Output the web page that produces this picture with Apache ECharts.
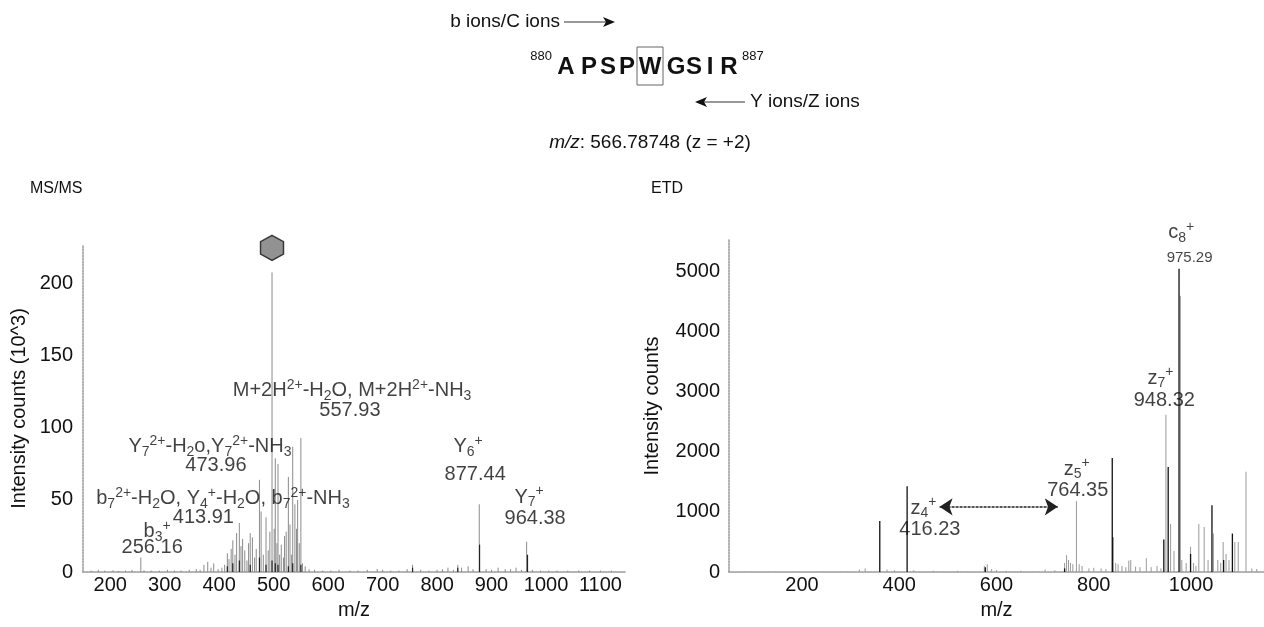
<!DOCTYPE html>
<html>
<head>
<meta charset="utf-8">
<script src="https://cdn.jsdelivr.net/npm/echarts@6/dist/echarts.min.js"></script>
<style>
  html, body { margin: 0; padding: 0; background: #fff; }
  #chart { width: 1264px; height: 627px; }
</style>
</head>
<body>
<div id="chart"></div>
<script>
// ---------------- DATA ----------------
// MS/MS spectrum (m/z, intensity in 10^3)
const msmsGrayPeaks = [
  [165,1],[178,1.5],[190,1],[205,1.2],[215,0.8],[228,1],[240,1.5],[256.16,10],[262,1.2],[275,1],[290,1],[305,1.5],[318,1],[330,1],[345,1.5],[358,2],[365,1.5],
  [372,5],[379,7],[385,3],[390,6],[398,2],[405,3],[410,5],[415,13],[418,9],[422,16],[425,22],[429,12],[432,27],[437,34],[440,18],[443,23],[447,15],[451,8],[454,20],[457,27],[461,24],[465,10],[468,16],
  [473.96,64],[477,42],[481,12],[486,38],[490,15],[493,28],[497,208],[501,30],[503,79],[506,20],[508,75],[511,12],[514,19],[518,10],[520,25],[523,28],[527,66],[530,33],[533,12],[535,87],[539,47],[542,30],[544,50],[547,20],[550,93],[553,6],[557.93,4],
  [565,2],[575,1.5],[590,1],[605,1],[620,1.5],[640,1],[655,1],[672,1.5],[690,2],[700,1.5],[715,1],[730,1],[745,2],[755,5],[770,1.5],[785,1],[800,1.5],[810,2],[820,3],[830,1.5],[838,5],[845,3],[857,4],[866,2],
  [877.44,47],[890,2],[900,1.5],[912,3],[925,2],[935,2],[945,3],[955,1.5],[964.38,21],[975,1.5],[990,1],[1005,1],[1020,1],[1040,1],[1060,1],[1080,1],[1100,1],[1120,1]
];
const msmsDarkPeaks = [
  [415,4],[425,6],[437,8],[457,5],[473.96,10],[486,5],[497,8],[503,6],[508,5],[527,4],[535,6],[550,5],[755,3],[838,3],[878,19],[966,12]
];
// ETD spectrum (m/z, intensity counts)
const etdGrayPeaks = [
  [318,40],[330,60],[375,40],[390,30],[430,30],[470,20],[520,20],[575,100],[581,130],[590,50],[600,30],[620,20],[650,20],[700,40],[720,30],
  [740,150],[744,280],[748,200],[752,150],[757,130],[764.35,1180],[770,130],[776,100],[790,60],[800,70],[815,60],[825,50],[845,150],[850,130],[858,100],[866,80],[872,190],[876,200],[886,90],[895,80],[908,230],[918,80],[930,100],[938,60],
  [948.32,2620],[958,800],[965,350],[978,4600],[981,200],[990,150],[999,420],[1005,150],[1010,100],[1016,800],[1027,750],[1035,200],[1046,640],[1055,200],[1061,150],[1066,500],[1072,300],[1078,200],[1090,500],[1097,500],[1113,1670],[1125,60],[1135,50]
];
const etdBlackPeaks = [
  [360,850],[416.23,1430],[577,80],[740,60],[838,1900],[839,580],[944,540],[953,1750],[975.29,5050],[999,300],[1043,1110],[1067,200],[1085,640]
];
// tick labels
const msmsXTicks = [200,300,400,500,600,700,800,900,1000,1100];
const msmsYTicks = [0,50,100,150,200];
const etdXTicks = [200,400,600,800,1000];
const etdYTicks = [0,1000,2000,3000,4000,5000];
// annotations (text, anchored at data coordinates)
const msmsNotes = [
  {at:[644,126], text:'{t|M+2H}{sup|2+}{t|-H}{sub|2}{t|O, M+2H}{sup|2+}{t|-NH}{sub|3}'},
  {at:[640,112], text:'{t|557.93}'},
  {at:[383,87],  text:'{t|Y}{sub|7}{sup|2+}{t|-H}{sub|2}{t|o,Y}{sub|7}{sup|2+}{t|-NH}{sub|3}'},
  {at:[394,74],  text:'{t|473.96}'},
  {at:[407,51],  text:'{t|b}{sub|7}{sup|2+}{t|-H}{sub|2}{t|O, Y}{sub|4}{sup|+}{t|-H}{sub|2}{t|O, b}{sub|7}{sup|2+}{t|-NH}{sub|3}'},
  {at:[371,38],  text:'{t|413.91}'},
  {at:[286,28],  text:'{t|b}{sub|3}{sup|+}'},
  {at:[277,17],  text:'{t|256.16}'},
  {at:[857,87],  text:'{t|Y}{sub|6}{sup|+}'},
  {at:[870,68],  text:'{t|877.44}'},
  {at:[969,52],  text:'{t|Y}{sub|7}{sup|+}'},
  {at:[980,37],  text:'{t|964.38}'}
];
const etdNotes = [
  {at:[450,1066], text:'{t|z}{sub|4}{sup|+}'},
  {at:[463,700],  text:'{t|416.23}'},
  {at:[765,1715], text:'{t|z}{sub|5}{sup|+}'},
  {at:[767,1350], text:'{t|764.35}'},
  {at:[937,3230], text:'{t|z}{sub|7}{sup|+}'},
  {at:[945,2850], text:'{t|948.32}'},
  {at:[980,5660], text:'{t|c}{sub|8}{sup|+}'},
  {at:[997,5230], text:'{s|975.29}'}
];
const etdArrow = [[483,1085],[726,1085]];
const precursorMark = [[497,225]];

// ---------------- CHART ----------------
const FONT = 'Liberation Sans, Arial, sans-serif';
const chart = echarts.init(document.getElementById('chart'), null, {renderer:'canvas'});

function peakSeries(data, xi, color, width) {
  return {
    type:'custom', xAxisIndex:xi, yAxisIndex:xi, data:data, clip:true, silent:true,
    encode:{x:0,y:1},
    renderItem:function(params, api){
      const x = api.value(0), y = api.value(1);
      const p0 = api.coord([x,0]), p1 = api.coord([x,y]);
      return {type:'line', shape:{x1:p0[0],y1:p0[1],x2:p1[0],y2:p1[1]},
              style:{stroke:color, lineWidth:width}};
    }
  };
}
const richStyles = {
  t:{fontSize:20, lineHeight:25, fontFamily:FONT, color:'#111', verticalAlign:'middle'},
  s:{fontSize:15, lineHeight:18, fontFamily:FONT, color:'#111'},
  sub:{fontSize:14, lineHeight:14, fontFamily:FONT, color:'#111', verticalAlign:'bottom'},
  sup:{fontSize:14, lineHeight:14, fontFamily:FONT, color:'#111', verticalAlign:'top'}
};
function noteSeries(notes, xi) {
  return {
    type:'scatter', xAxisIndex:xi, yAxisIndex:xi, clip:false, silent:true,
    symbolSize:0, z:5,
    data: notes.map(n => ({value:n.at, label:{formatter:n.text}})),
    label:{show:true, position:'inside', rich:richStyles, color:'#111'}
  };
}
function axisCommon(ticks, margin){
  return {
    axisLine:{show:true, lineStyle:{color:'#9a9a9a', width:1.5, type:[2,1]}},
    axisTick:{show:false},
    splitLine:{show:false},
    axisLabel:{color:'#111', fontSize:20, fontFamily:FONT, customValues:ticks, margin:margin,
               formatter:function(v){ return String(v); }},
    nameTextStyle:{color:'#111', fontSize:20, fontFamily:FONT}
  };
}

const hexPath = 'path://M50,0 L93.3,25 L93.3,75 L50,100 L6.7,75 L6.7,25 Z';

const option = {
  backgroundColor:'#ffffff',
  animation:false,
  grid:[
    {left:83, top:245, width:542, height:327},
    {left:729, top:240, width:536, height:332}
  ],
  xAxis:[
    Object.assign(axisCommon(msmsXTicks, 3), {type:'value', gridIndex:0, min:150, max:1145,
      name:'m/z', nameLocation:'middle', nameGap:28}),
    Object.assign(axisCommon(etdXTicks, 3), {type:'value', gridIndex:1, min:50, max:1150,
      name:'m/z', nameLocation:'middle', nameGap:28})
  ],
  yAxis:[
    Object.assign(axisCommon(msmsYTicks, 10), {type:'value', gridIndex:0, min:0, max:227,
      name:'Intensity counts (10^3)', nameLocation:'middle', nameGap:54}),
    Object.assign(axisCommon(etdYTicks, 9), {type:'value', gridIndex:1, min:0, max:5530,
      name:'Intensity counts', nameLocation:'middle', nameGap:67})
  ],
  series:[
    peakSeries(msmsGrayPeaks, 0, '#8c8c8c', 1),
    peakSeries(msmsDarkPeaks, 0, '#222222', 1.2),
    peakSeries(etdGrayPeaks, 1, '#9a9a9a', 1),
    peakSeries(etdBlackPeaks, 1, '#111111', 1.3),
    noteSeries(msmsNotes, 0),
    noteSeries(etdNotes, 1),
    {
      type:'scatter', xAxisIndex:0, yAxisIndex:0, clip:false, silent:true,
      data:precursorMark, symbol:hexPath, symbolSize:[23,25],
      itemStyle:{color:'#777777', borderColor:'#111', borderWidth:1.5}, z:6
    },
    {
      type:'lines', coordinateSystem:'cartesian2d', xAxisIndex:1, yAxisIndex:1, silent:true,
      symbol:['arrow','arrow'], symbolSize:[13,13],
      lineStyle:{color:'#222', width:1.5, type:[3,1], opacity:1},
      data:[{coords:etdArrow}]
    }
  ],
  graphic:[
    {type:'text', x:30, y:189, style:{text:'MS/MS', fontSize:16, fontFamily:FONT, fill:'#111', verticalAlign:'middle'}},
    {type:'text', x:651, y:189, style:{text:'ETD', fontSize:16, fontFamily:FONT, fill:'#111', verticalAlign:'middle'}},
    // b ions / C ions
    {type:'text', x:560, y:22, style:{text:'b ions/C ions', fontSize:19, fontFamily:FONT, fill:'#111', align:'right', verticalAlign:'middle'}},
    {type:'line', shape:{x1:564, y1:22, x2:607, y2:22}, style:{stroke:'#333', lineWidth:1.2}},
    {type:'polygon', shape:{points:[[615,22],[603,17],[606,22],[603,27]]}, style:{fill:'#111'}},
    // sequence
    {type:'text', x:552, y:56, style:{text:'880', fontSize:13, fontFamily:FONT, fill:'#111', align:'right', verticalAlign:'middle'}},
    {type:'text', x:566, y:67, style:{text:'A', fontSize:24, fontWeight:'bold', fontFamily:FONT, fill:'#111', align:'center', verticalAlign:'middle'}},
    {type:'text', x:589, y:67, style:{text:'P', fontSize:24, fontWeight:'bold', fontFamily:FONT, fill:'#111', align:'center', verticalAlign:'middle'}},
    {type:'text', x:608, y:67, style:{text:'S', fontSize:24, fontWeight:'bold', fontFamily:FONT, fill:'#111', align:'center', verticalAlign:'middle'}},
    {type:'text', x:627, y:67, style:{text:'P', fontSize:24, fontWeight:'bold', fontFamily:FONT, fill:'#111', align:'center', verticalAlign:'middle'}},
    {type:'text', x:650, y:67, style:{text:'W', fontSize:24, fontWeight:'bold', fontFamily:FONT, fill:'#111', align:'center', verticalAlign:'middle'}},
    {type:'text', x:676, y:67, style:{text:'G', fontSize:24, fontWeight:'bold', fontFamily:FONT, fill:'#111', align:'center', verticalAlign:'middle'}},
    {type:'text', x:694, y:67, style:{text:'S', fontSize:24, fontWeight:'bold', fontFamily:FONT, fill:'#111', align:'center', verticalAlign:'middle'}},
    {type:'text', x:710, y:67, style:{text:'I', fontSize:24, fontWeight:'bold', fontFamily:FONT, fill:'#111', align:'center', verticalAlign:'middle'}},
    {type:'text', x:729, y:67, style:{text:'R', fontSize:24, fontWeight:'bold', fontFamily:FONT, fill:'#111', align:'center', verticalAlign:'middle'}},
    {type:'text', x:742, y:56, style:{text:'887', fontSize:13, fontFamily:FONT, fill:'#111', align:'left', verticalAlign:'middle'}},
    {type:'rect', shape:{x:637, y:47, width:26, height:38}, style:{fill:'none', stroke:'#666', lineWidth:1}},
    // Y ions / Z ions
    {type:'line', shape:{x1:703, y1:102, x2:745, y2:102}, style:{stroke:'#333', lineWidth:1.2}},
    {type:'polygon', shape:{points:[[695,102],[707,97],[704,102],[707,107]]}, style:{fill:'#111'}},
    {type:'text', x:750, y:102, style:{text:'Y ions/Z ions', fontSize:19, fontFamily:FONT, fill:'#111', align:'left', verticalAlign:'middle'}},
    // m/z line
    {type:'text', x:650, y:143, style:{text:'{i|m/z}: 566.78748 (z = +2)', fontSize:19, fontFamily:FONT, fill:'#111', align:'center', verticalAlign:'middle',
      rich:{i:{fontStyle:'italic', fontSize:19, fontFamily:FONT, fill:'#111'}}}}
  ]
};
chart.setOption(option);
</script>
</body>
</html>
